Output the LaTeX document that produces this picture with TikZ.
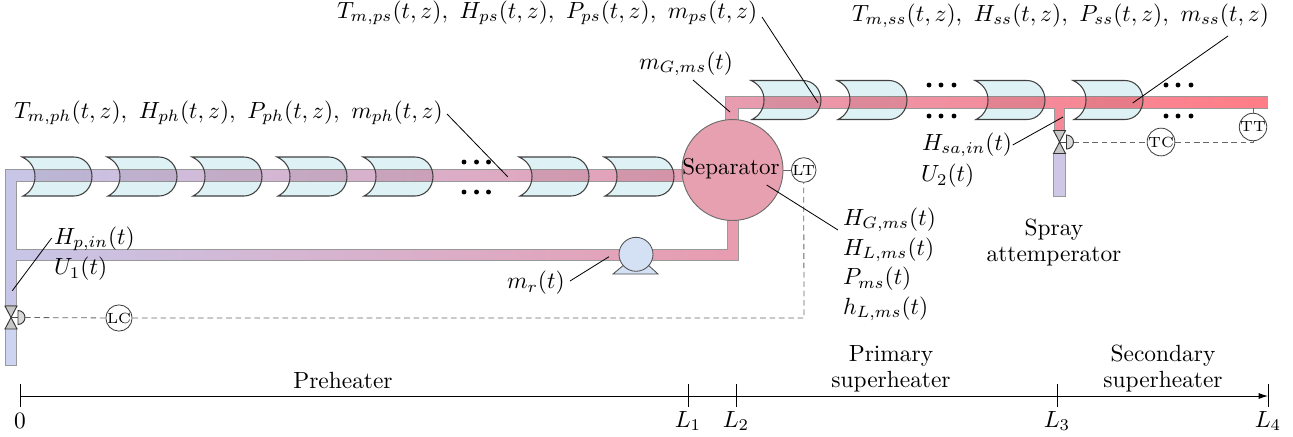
\documentclass[tikz,border=0pt]{standalone}
\usetikzlibrary{arrows.meta}
\definecolor{pipeL}{RGB}{200,198,232}
\definecolor{pipeR}{RGB}{255,125,135}
\definecolor{hxfill}{RGB}{222,242,246}
\definecolor{edgegray}{RGB}{110,110,110}
\definecolor{stubA}{RGB}{204,212,242}
\definecolor{stubB}{RGB}{206,200,230}
\definecolor{pumpfill}{RGB}{212,224,243}
\definecolor{sepfill}{RGB}{230,160,175}
\tikzset{
 x=0.427pt,y=-0.427pt,
 pipeedge/.style={draw=edgegray!70,line width=0.4pt},
 hxline/.style={draw=black!75,line width=0.45pt},
 instr/.style={circle,draw=black!75,fill=white,line width=0.35pt,minimum size=10.2pt,inner sep=0pt,font=\fontsize{6.3}{6.3}\selectfont},
 sigline/.style={dash pattern=on 2.4pt off 1.6pt,draw=black!60,line width=0.35pt},
 leader/.style={draw=black,line width=0.35pt},
 tick/.style={draw=black,line width=0.4pt},
 lbl/.style={inner sep=0pt,outer sep=0pt},
 valvepart/.style={draw=black!80,fill=black!22,line width=0.4pt},
 actpart/.style={draw=black!80,fill=black!15,line width=0.4pt},
 dotmark/.style={circle,fill=black,inner sep=0pt,minimum size=2.1pt},
}
\newcommand{\hxshape}{(0,-19.5) -- (52,-19.5) .. controls (62,-19.5) and (70,-11) .. (70,0) .. controls (70,11) and (62,19.5) .. (52,19.5) -- (1,19.5) .. controls (8,16) and (13,9) .. (13,0) .. controls (13,-9) and (8,-16) .. (0,-19.5) -- cycle}
\newcommand{\valveat}[2]{%
 \path[valvepart] (#1-6,#2-11.5) -- (#1+6,#2-11.5) -- (#1-6,#2+11.5) -- (#1+6,#2+11.5) -- cycle;
 \draw[draw=black!70,line width=0.35pt] (#1,#2) -- (#1+7,#2);
 \path[actpart] (#1+7,#2-7) arc[start angle=-90,end angle=90,radius=7] -- cycle;}
\begin{document}
\begin{tikzpicture}
\useasboundingbox (0,0) rectangle (1293,436);
\def\hxlistA{22,107,192,277,363,519,604}
\def\hxlistB{751,837,975,1073}
% exchanger bodies below the pipes
\foreach \x in \hxlistA {\fill[hxfill,shift={(\x,176.5)}] \hxshape;}
\foreach \x in \hxlistB {\fill[hxfill,shift={(\x,100)}] \hxshape;}
% pipes
\def\pipemain{(5,169.5) -- (690,169.5) -- (690,181.5) -- (16.5,181.5) -- (16.5,249) -- (727,249) -- (727,215) -- (738,215) -- (738,260) -- (16.5,260) -- (16.5,305.5) -- (5,305.5) -- cycle}
\def\pipeup{(725.7,125) -- (725.7,96) -- (1268,96) -- (1268,108) -- (1064.7,108) -- (1064.7,130.5) -- (1054,130.5) -- (1054,108) -- (738,108) -- (738,125) -- cycle}
\begin{scope}
 \clip \pipemain \pipeup;
 \fill[left color=pipeL,right color=pipeR] (5,90) rectangle (1268,310);
\end{scope}
\draw[pipeedge] (1268,96) -- (725.7,96) -- (725.7,125);
\draw[pipeedge] (738,125) -- (738,108) -- (1054,108) -- (1054,130.5) -- (1064.7,130.5) -- (1064.7,108) -- (1268,108);
\draw[pipeedge] \pipemain;
\begin{scope}
 \clip \pipemain \pipeup;
 \foreach \x in \hxlistA {\fill[black,fill opacity=0.07,shift={(\x,176.5)}] \hxshape;}
 \foreach \x in \hxlistB {\fill[black,fill opacity=0.07,shift={(\x,100)}] \hxshape;}
\end{scope}
\foreach \x in \hxlistA {\draw[hxline,shift={(\x,176.5)}] \hxshape;}
\foreach \x in \hxlistB {\draw[hxline,shift={(\x,100)}] \hxshape;}
\draw[pipeedge,fill=stubA] (5,328) rectangle (16.5,365);
\draw[pipeedge,fill=stubB] (1053.5,153) rectangle (1065,196.7);
% separator
\draw[draw=edgegray,line width=0.4pt,fill=sepfill] (732.5,170) circle[radius=50.5];
\node[lbl,font=\fontsize{9.8}{12}\selectfont] (sep) at (731,169) {Separator};
% dots
\foreach \x/\y in {464/162,476.5/162,488.5/162,464/192,476.5/192,488.5/192,929/85,941/85,954/85,929/116,941/116,954/116,1166/85,1178/85,1191/85,1166/116,1178/116,1191/116}
 \node[dotmark] at (\x,\y) {};
% valves
\valveat{11}{317.5}
\valveat{1059.5}{142}
\coordinate (actL) at (25,317.5);
\coordinate (actR) at (1073.5,142);
% instruments
\node[instr] (LC) at (119,318) {LC};
\node[instr] (LT) at (803.7,170) {LT};
\node[instr] (TC) at (1161,142) {TC};
\node[instr] (TT) at (1253,127) {TT};
\coordinate (lcturn) at (804,318);
\coordinate (ttturn) at (1253,142);
\coordinate (ttpipe) at (1253,108);
\coordinate (sepR) at (783,170);
\draw[sigline] (actL) -- (LC);
\draw[sigline] (LC) -- (lcturn) -- (LT);
\draw[sigline] (actR) -- (TC);
\draw[sigline] (TC) -- (ttturn) -- (TT);
\draw[draw=black!60,line width=0.35pt] (sepR) -- (LT);
\draw[draw=black!60,line width=0.35pt] (TT) -- (ttpipe);
% pump
\path[draw=black!70,fill=pumpfill,line width=0.35pt] (613,274) -- (625,264) -- (647,264) -- (658,274) -- cycle;
\node[circle,draw=black!70,fill=pumpfill,line width=0.35pt,minimum size=14.5pt,inner sep=0pt] (pump) at (636,254.3) {};
% labels
\node[lbl,anchor=west] (tph) at (14,113) {$T_{m,ph}(t,z),\ H_{ph}(t,z),\ P_{ph}(t,z),\ m_{ph}(t,z)$};
\node[lbl,anchor=west] (tps) at (337,13) {$T_{m,ps}(t,z),\ H_{ps}(t,z),\ P_{ps}(t,z),\ m_{ps}(t,z)$};
\node[lbl,anchor=west] (tss) at (852,16) {$T_{m,ss}(t,z),\ H_{ss}(t,z),\ P_{ss}(t,z),\ m_{ss}(t,z)$};
\node[lbl,anchor=west] (mg) at (639,64) {$m_{G,ms}(t)$};
\node[lbl,anchor=west] (hsa) at (922,145) {$H_{sa,in}(t)$};
\node[lbl,anchor=west] (u2) at (921,176) {$U_2(t)$};
\node[lbl,anchor=west] (hp) at (54,239) {$H_{p,in}(t)$};
\node[lbl,anchor=west] (u1) at (54,269) {$U_1(t)$};
\node[lbl,anchor=west] (mr) at (507,283) {$m_r(t)$};
\node[lbl,anchor=west] (hg) at (843,220) {$H_{G,ms}(t)$};
\node[lbl,anchor=west] (hl) at (843,250) {$H_{L,ms}(t)$};
\node[lbl,anchor=west] (pm) at (843,279) {$P_{ms}(t)$};
\node[lbl,anchor=west] (hh) at (843,309) {$h_{L,ms}(t)$};
\node[lbl] (spray) at (1054,243) {\begin{tabular}{@{}c@{}}Spray\\[-1pt]attemperator\end{tabular}};
% leaders
\coordinate (e1) at (507.7,176.7); \coordinate (s1) at (447,114);
\coordinate (e2) at (818,102.7); \coordinate (s2) at (762,17);
\coordinate (e3) at (1132.7,103); \coordinate (s3) at (1228,36);
\coordinate (e4) at (730,112); \coordinate (s4) at (693,80);
\coordinate (e5) at (1063,117); \coordinate (s5) at (1012.7,145);
\coordinate (e6) at (766.7,185); \coordinate (s6) at (838,230);
\coordinate (e7) at (609,256.7); \coordinate (s7) at (570,281);
\coordinate (e8) at (12.3,290.7); \coordinate (s8) at (51.7,238);
\foreach \a/\b in {s1/e1,s2/e2,s3/e3,s4/e4,s5/e5,s6/e6,s7/e7,s8/e8} \draw[leader] (\a) -- (\b);
% axis
\coordinate (a0) at (20,396); \coordinate (a4) at (1268,396);
\draw[line width=0.4pt,-{Latex[length=4pt,width=2.6pt]}] (a0) -- (a4);
\foreach \x/\t in {20/0,688/L_1,736/L_2,1057/L_3,1268/L_4} {
 \draw[tick] (\x,384) -- (\x,407);
 \node[lbl] at (\x,421) {$\t$};
}
\node[lbl] (pre) at (343,380) {Preheater};
\node[lbl] (ps) at (891,369) {\begin{tabular}{@{}c@{}}Primary\\[-1pt]superheater\end{tabular}};
\node[lbl] (ss) at (1163,369) {\begin{tabular}{@{}c@{}}Secondary\\[-1pt]superheater\end{tabular}};
\end{tikzpicture}
\end{document}
